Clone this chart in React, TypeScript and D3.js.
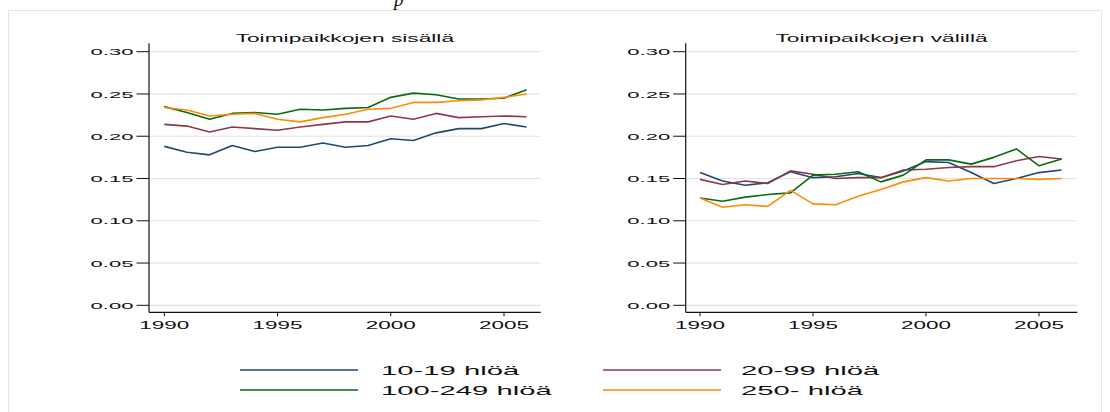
import React from "react";
import * as d3 from "d3";

// ---- data ----
const years = [1990, 1991, 1992, 1993, 1994, 1995, 1996, 1997, 1998, 1999, 2000, 2001, 2002, 2003, 2004, 2005, 2006];
const seriesNames = ["10-19 hlöä", "20-99 hlöä", "100-249 hlöä", "250- hlöä"];
const seriesColors = ["#1d4a75", "#8e3a47", "#0b6a0f", "#ff8a0a"];
const panelTitles = ["Toimipaikkojen sisällä", "Toimipaikkojen välillä"];
const yTicks = [0, 0.05, 0.1, 0.15, 0.2, 0.25, 0.3];
const yTickLabels = ["0.00", "0.05", "0.10", "0.15", "0.20", "0.25", "0.30"];
const xTicks = [1990, 1995, 2000, 2005];

// Toimipaikkojen sisällä
const within10_19 = [0.188, 0.181, 0.178, 0.189, 0.182, 0.187, 0.187, 0.192, 0.187, 0.189, 0.197, 0.195, 0.204, 0.209, 0.209, 0.215, 0.211];
const within20_99 = [0.214, 0.212, 0.205, 0.211, 0.209, 0.207, 0.211, 0.214, 0.217, 0.217, 0.224, 0.220, 0.227, 0.222, 0.223, 0.224, 0.223];
const within100_249 = [0.235, 0.228, 0.220, 0.227, 0.228, 0.226, 0.232, 0.231, 0.233, 0.234, 0.246, 0.251, 0.249, 0.244, 0.244, 0.245, 0.255];
const within250 = [0.234, 0.231, 0.224, 0.226, 0.227, 0.220, 0.217, 0.222, 0.226, 0.232, 0.233, 0.240, 0.240, 0.242, 0.243, 0.246, 0.250];

// Toimipaikkojen välillä
const between10_19 = [0.157, 0.147, 0.142, 0.145, 0.158, 0.151, 0.152, 0.156, 0.151, 0.159, 0.170, 0.169, 0.157, 0.144, 0.150, 0.157, 0.160];
const between20_99 = [0.149, 0.143, 0.147, 0.144, 0.159, 0.155, 0.150, 0.151, 0.151, 0.160, 0.161, 0.163, 0.164, 0.164, 0.171, 0.176, 0.173];
const between100_249 = [0.127, 0.123, 0.128, 0.131, 0.133, 0.154, 0.155, 0.158, 0.146, 0.154, 0.172, 0.172, 0.167, 0.175, 0.185, 0.165, 0.173];
const between250 = [0.127, 0.116, 0.119, 0.117, 0.136, 0.120, 0.119, 0.129, 0.137, 0.146, 0.151, 0.147, 0.150, 0.150, 0.150, 0.149, 0.150];

const panelData = [
  [within10_19, within20_99, within100_249, within250],
  [between10_19, between20_99, between100_249, between250],
];

// ---- layout ----
const W = 1110;
const H = 412;
const SX = 2.25; // horizontal stretch of the original graphic
const FONT = "'Liberation Sans', Arial, Helvetica, sans-serif";

const panels = [
  { axisX: 149, right: 540.7, x0: 164.3, x1: 504 },
  { axisX: 685.7, right: 1077.3, x0: 700, x1: 1039 },
];
const yScale = d3.scaleLinear().domain([0, 0.3]).range([305.3, 51.7]);
const axisY = 312.3;
const axisTop = 43.3;

function SText(props: {
  x: number; y: number; size: number; anchor?: string; children: React.ReactNode;
  dy?: string; fill?: string;
}) {
  const { x, y, size, anchor = "start", children, dy, fill = "#111" } = props;
  return (
    <text
      transform={`translate(${x},${y}) scale(${SX},1)`}
      fontSize={size}
      fontFamily={FONT}
      textAnchor={anchor}
      dy={dy}
      fill={fill}
    >
      {children}
    </text>
  );
}

function Panel({ idx }: { idx: number }) {
  const p = panels[idx];
  const xScale = d3.scaleLinear().domain([1990, 2005]).range([p.x0, p.x1]);
  const line = d3
    .line<number>()
    .x((_, i) => xScale(years[i]))
    .y((d) => yScale(d));
  const cx = (p.axisX + p.right) / 2;
  return (
    <g>
      {yTicks.map((t) => (
        <line key={"g" + t} x1={p.axisX} x2={p.right} y1={yScale(t)} y2={yScale(t)} stroke="#e3e3e3" strokeWidth={1.2} />
      ))}
      {panelData[idx].map((s, k) => (
        <path key={k} d={line(s) || ""} fill="none" stroke={seriesColors[k]} strokeWidth={1.6} strokeLinejoin="round" />
      ))}
      <line x1={p.axisX} x2={p.axisX} y1={axisTop} y2={axisY} stroke="#111" strokeWidth={1.2} />
      <line x1={p.axisX} x2={p.right} y1={axisY} y2={axisY} stroke="#111" strokeWidth={1.2} />
      {yTicks.map((t, i) => (
        <g key={"y" + t}>
          <line x1={p.axisX - 12.5} x2={p.axisX} y1={yScale(t)} y2={yScale(t)} stroke="#111" strokeWidth={1} />
          <SText x={p.axisX - 15.5} y={yScale(t)} size={9.8} anchor="end" dy="0.36em">
            {yTickLabels[i]}
          </SText>
        </g>
      ))}
      {xTicks.map((t) => (
        <g key={"x" + t}>
          <line x1={xScale(t)} x2={xScale(t)} y1={axisY} y2={axisY + 4} stroke="#111" strokeWidth={1} />
          <SText x={xScale(t)} y={329} size={10} anchor="middle">
            {t}
          </SText>
        </g>
      ))}
      <SText x={cx} y={41.7} size={10.1} anchor="middle">
        {panelTitles[idx]}
      </SText>
    </g>
  );
}

const legendCols = [
  { lx0: 240, lx1: 358, tx: 381 },
  { lx0: 603, lx1: 721, tx: 741 },
];
const legendRows = [370, 390];

export default function App() {
  return (
    <div style={{ position: "fixed", left: 0, top: 0, width: W, height: H, overflow: "hidden", background: "#fff" }}>
      <svg width={W} height={H} style={{ display: "block" }}>
        <rect x={0} y={0} width={W} height={H} fill="#fff" />
        <text x={394} y={6} fontSize={19} fontStyle="italic" fontFamily="'Liberation Serif', 'DejaVu Serif', serif" fill="#111">
          p
        </text>
        <rect x={8.5} y={10.5} width={1093} height={420} fill="none" stroke="#e2e7ea" strokeWidth={1} />
        <Panel idx={0} />
        <Panel idx={1} />
        {seriesNames.map((name, k) => {
          const col = legendCols[k % 2];
          const y = legendRows[Math.floor(k / 2)];
          return (
            <g key={name}>
              <line x1={col.lx0} x2={col.lx1} y1={y} y2={y} stroke={seriesColors[k]} strokeWidth={1.6} />
              <SText x={col.tx} y={y} size={13} dy="0.36em">
                {name}
              </SText>
            </g>
          );
        })}
      </svg>
    </div>
  );
}
